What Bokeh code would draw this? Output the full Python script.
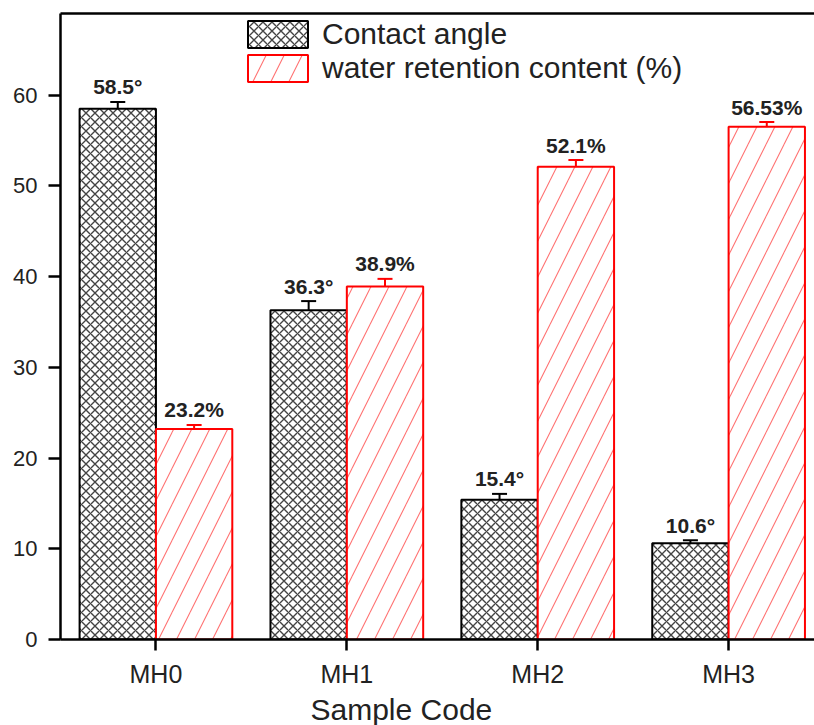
import numpy as np
from bokeh.plotting import figure
from bokeh.models import (Range1d, FixedTicker, LinearAxis, Whisker, TeeHead,
                          ColumnDataSource, Title, Legend, LegendItem)
from bokeh.core.properties import value
from bokeh.embed import file_html
from bokeh.resources import INLINE

# ---- data ----
categories = ["MH0", "MH1", "MH2", "MH3"]
contact_angle = [58.5, 36.3, 15.4, 10.6]
contact_err = [0.75, 1.0, 0.65, 0.35]
water_retention = [23.2, 38.9, 52.1, 56.53]
water_err = [0.45, 0.85, 0.75, 0.5]
contact_labels = ["58.5°", "36.3°", "15.4°", "10.6°"]
water_labels = ["23.2%", "38.9%", "52.1%", "56.53%"]
y_ticks = [0, 10, 20, 30, 40, 50, 60]
series_names = ["Contact angle", "water retention content (%)"]
x_title = "Sample Code"

FONT = "Liberation Sans"
idx = np.arange(len(categories))
bw = 0.4

ca = np.array(contact_angle)
cae = np.array(contact_err)
wr = np.array(water_retention)
wre = np.array(water_err)

src_c = ColumnDataSource(dict(x=idx - bw / 2, top=ca, upper=ca + cae, lower=ca - cae,
                              lab=contact_labels))
src_w = ColumnDataSource(dict(x=idx + bw / 2, top=wr, upper=wr + wre, lower=wr - wre,
                              lab=water_labels))

p = figure(width=814, height=725, output_backend="svg", toolbar_location=None,
           x_range=Range1d(-0.5, 3.45), y_range=Range1d(0, 69),
           min_border_left=60, min_border_right=0, min_border_top=13, min_border_bottom=84)
p.outline_line_color = None
p.xgrid.visible = False
p.ygrid.visible = False
p.background_fill_color = "white"

# axes styling
for ax in (p.xaxis[0], p.yaxis[0]):
    ax.axis_line_width = 2.5
    ax.axis_line_color = "black"
    ax.major_tick_line_width = 2.5
    ax.major_tick_line_color = "black"
    ax.major_tick_in = 0
    ax.minor_tick_line_color = None
    ax.major_label_text_font = FONT
    ax.major_label_text_color = "#222222"

p.yaxis.ticker = FixedTicker(ticks=y_ticks)
p.yaxis.major_tick_out = 12
p.yaxis.major_label_standoff = 11
p.yaxis.major_label_text_font_size = "22px"

p.xaxis.ticker = FixedTicker(ticks=list(idx))
p.xaxis.major_label_overrides = {int(i): c for i, c in zip(idx, categories)}
p.xaxis.major_tick_out = 11
p.xaxis.major_label_standoff = 9
p.xaxis.major_label_text_font_size = "25px"

top_axis = LinearAxis(ticker=FixedTicker(ticks=[]), major_label_text_font_size="0px",
                      major_tick_out=0, major_tick_in=0, minor_tick_out=0, minor_tick_in=0,
                      major_label_standoff=0, axis_line_width=2.5, axis_line_color="black")
p.add_layout(top_axis, "above")

# bars
r_c = p.vbar(x="x", top="top", bottom=0, width=bw, source=src_c,
             fill_color="white", line_color="black", line_width=2,
             hatch_pattern="diagonal_cross", hatch_scale=9, hatch_color="#222222",
             hatch_weight=1.4, hatch_alpha=0.85)
r_w = p.vbar(x="x", top="top", bottom=0, width=bw, source=src_w,
             fill_color="white", line_color="#ff0000", line_width=2,
             hatch_pattern="right_diagonal_line", hatch_scale=36, hatch_color="#ff0000",
             hatch_weight=1.1, hatch_alpha=0.55)

# error bars
for src, col in ((src_c, "black"), (src_w, "#ff0000")):
    w = Whisker(source=src, base="x", upper="upper", lower="lower",
                line_color=col, line_width=2,
                upper_head=TeeHead(size=15, line_color=col, line_width=2),
                lower_head=TeeHead(size=15, line_color=col, line_width=2))
    p.add_layout(w)

# value labels
for src in (src_c, src_w):
    p.text(x="x", y="upper", text="lab", source=src, text_font=value(FONT),
           text_font_style="bold", text_font_size="21px", text_align="center",
           text_baseline="alphabetic", y_offset=-15, text_color="#222222")

# legend
legend = Legend(items=[LegendItem(label=series_names[0], renderers=[r_c]),
                       LegendItem(label=series_names[1], renderers=[r_w])],
                location=(180, 554), glyph_width=75, glyph_height=34, label_height=34,
                spacing=0, label_standoff=7, padding=0, margin=0,
                border_line_color=None, background_fill_alpha=0,
                label_text_font_size="30px", label_text_font=FONT,
                label_text_color="#222222")
p.add_layout(legend)

# x title
p.add_layout(Title(text=x_title, align="left", offset=250, text_font=FONT,
                   text_font_size="30px", text_font_style="normal",
                   text_color="#222222", standoff=0), "below")

open("out.html", "w").write(file_html(p, INLINE))
